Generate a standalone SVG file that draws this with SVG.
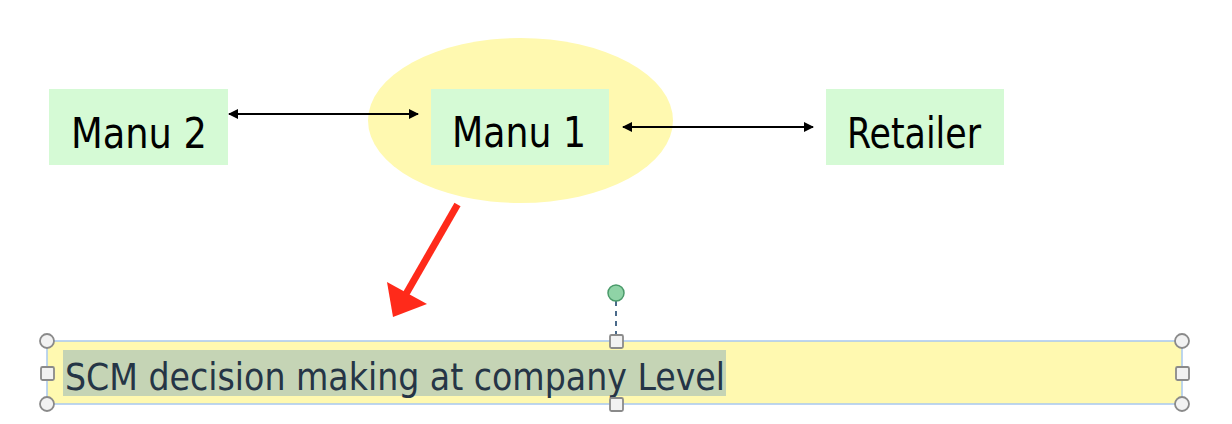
<svg xmlns="http://www.w3.org/2000/svg" width="1232" height="424" viewBox="0 0 1232 424">
<style>
.box{fill:#d5fad5}
.lbl{font-family:"DejaVu Sans Condensed","DejaVu Sans",sans-serif;font-size:43px;fill:#000}
.conn{stroke:#000;stroke-width:2;fill:none}
.hc{fill:#f2f2f2;stroke:#8a8a8a;stroke-width:1.8}
</style>
<defs>
<marker id="ah" viewBox="0 0 10 10" refX="9" refY="5" markerWidth="5" markerHeight="5" orient="auto-start-reverse">
<path d="M0,0 L10,5 L0,10 z" fill="#000"/>
</marker>
</defs>
<rect width="1232" height="424" fill="#fff"/>
<g id="focus">
<ellipse cx="520.5" cy="120.5" rx="152.5" ry="82.5" fill="#fff9b0"/>
</g>
<g id="manu2">
<rect class="box" x="49" y="89" width="179" height="76"/>
<text class="lbl" x="71" y="148" textLength="136" lengthAdjust="spacingAndGlyphs">Manu 2</text>
</g>
<g id="manu1">
<rect class="box" x="431" y="89" width="178" height="76"/>
<text class="lbl" x="452" y="147" textLength="134" lengthAdjust="spacingAndGlyphs">Manu 1</text>
</g>
<g id="retailer">
<rect class="box" x="826" y="89" width="178" height="76"/>
<text class="lbl" x="847" y="148" textLength="134" lengthAdjust="spacingAndGlyphs">Retailer</text>
</g>
<g id="connectors">
<line class="conn" x1="229" y1="114" x2="418" y2="114" marker-start="url(#ah)" marker-end="url(#ah)"/>
<line class="conn" x1="623" y1="127" x2="813" y2="127" marker-start="url(#ah)" marker-end="url(#ah)"/>
<line x1="457.5" y1="204.5" x2="406" y2="294" stroke="#ff2a1a" stroke-width="7"/>
<polygon points="387,282 427,304 393,317" fill="#ff2a1a"/>
</g>
<g id="caption">
<rect x="47" y="341" width="1135" height="63" fill="#fff9b0" stroke="#a8c8f0" stroke-width="1.5"/>
<rect x="63" y="350" width="663" height="46" fill="#c5d4b5"/>
<text x="65" y="390" font-family="'DejaVu Sans Condensed','DejaVu Sans',sans-serif" font-size="37" fill="#253546" textLength="660" lengthAdjust="spacingAndGlyphs">SCM decision making at company Level</text>
<line x1="616" y1="301" x2="616" y2="335" stroke="#4a6a8a" stroke-width="2" stroke-dasharray="5,5"/>
<circle cx="616" cy="293" r="8" fill="#8fd3a6" stroke="#4a9a6a" stroke-width="1.5"/>
<circle class="hc" cx="47" cy="341" r="7"/>
<circle class="hc" cx="47" cy="404" r="7"/>
<circle class="hc" cx="1182" cy="341" r="7"/>
<circle class="hc" cx="1182" cy="404" r="7"/>
<rect class="hc" x="41" y="367" width="13" height="13" rx="1.5"/>
<rect class="hc" x="1176" y="367" width="13" height="13" rx="1.5"/>
<rect class="hc" x="610" y="335" width="13" height="13" rx="1.5"/>
<rect class="hc" x="610" y="398" width="13" height="13" rx="1.5"/>
</g>
</svg>
